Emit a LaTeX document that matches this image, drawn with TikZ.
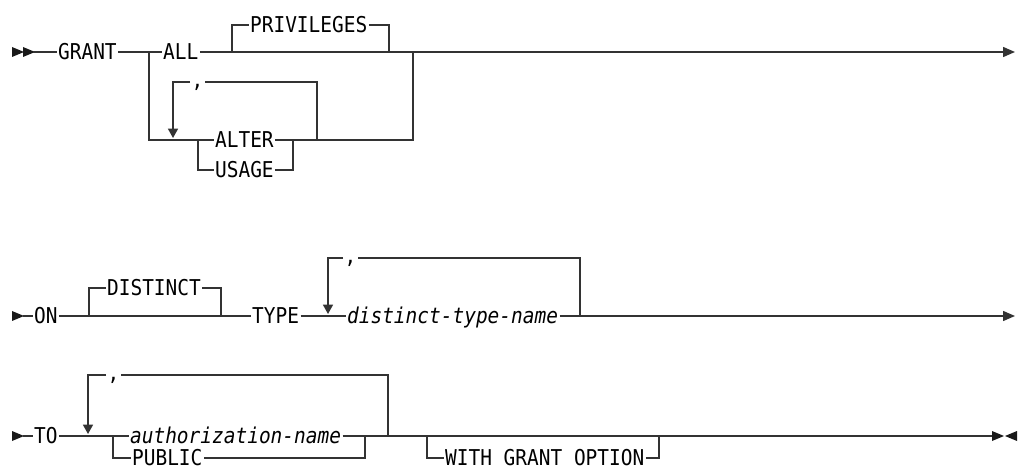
\documentclass[tikz,border=0pt]{standalone}
\usepackage{fontspec}
\usetikzlibrary{arrows.meta}
\newfontfamily\rrfont{DejaVu Sans Mono}
\newcommand\rrsize{\fontsize{14.6pt}{16pt}\selectfont}

\tikzset{
  rail/.style={line width=1.1pt, draw=black!80},
  kw/.style={font=\rrfont\rrsize, anchor=west, inner xsep=1pt, inner ysep=0pt,
             text height=10.6pt, text depth=0pt, yscale=1.12},
  var/.style={kw, font=\rrfont\itshape\rrsize},
  sepcomma/.style={kw, text height=7pt},
  tip/.style={-{Triangle[length=9pt,width=7.5pt]}},
  downtip/.style={-{Triangle[length=7pt,width=7.5pt]}},
  headtri/.pic={\fill[black!90] (0,-5) -- (12,0) -- (0,5) -- cycle;},
  tailtri/.pic={\fill[black!90] (0,-5) -- (-12,0) -- (0,5) -- cycle;},
}

\begin{document}
\begin{tikzpicture}[x=0.75pt, y=-0.75pt]
\useasboundingbox (0,0) rectangle (1018,470);

% -----------------------
% Ligne 1 : GRANT
% -----------------------
\pic at (12,52) {headtri};
\pic at (23,52) {headtri};
\coordinate (r1start) at (33,52);
\coordinate (r1end) at (1015,52);
\coordinate (allL) at (149,52);
\coordinate (allR) at (413,52);
\coordinate (privL) at (232,52);
\coordinate (privR) at (389,52);
\coordinate (altB) at (198,140);
\coordinate (altE) at (293,140);
\coordinate (loop1L) at (173,138);
\coordinate (loop1R) at (317,140);

\node[kw] (grant) at (56.5,52) {GRANT};
\node[kw] (all) at (161.5,52) {ALL};
\node[kw] (privileges) at (248.5,25) {PRIVILEGES};
\node[kw] (alter) at (213.5,140) {ALTER};
\node[kw] (usage) at (213.5,170) {USAGE};
\node[sepcomma] (comma1) at (190,82) {,};

\draw[rail] (r1start) -- (grant.west);
\draw[rail] (grant.east) -- (all.west);
\draw[rail,tip] (all.east) -- (r1end);
\draw[rail] (privL) |- (privileges.west);
\draw[rail] (privileges.east) -| (privR);
\draw[rail] (allL) |- (alter.west);
\draw[rail] (alter.east) -| (allR);
\draw[rail] (altB) |- (usage.west);
\draw[rail] (usage.east) -| (altE);
\draw[rail] (loop1R) |- (comma1.east);
\draw[rail,downtip] (comma1.west) -| (loop1L);

% -----------------------
% Ligne 2 : ON
% -----------------------
\pic at (12,316) {headtri};
\coordinate (r2start) at (23,316);
\coordinate (r2end) at (1015,316);
\coordinate (distL) at (89,316);
\coordinate (distR) at (221,316);
\coordinate (loop2L) at (328,314);
\coordinate (loop2R) at (580,316);

\node[kw] (on) at (32.5,316) {ON};
\node[kw] (distinct) at (105.5,288) {DISTINCT};
\node[kw] (type) at (250.5,316) {TYPE};
\node[var] (dtname) at (345.5,316) {distinct-type-name};
\node[sepcomma] (comma2) at (343,258) {,};

\draw[rail] (r2start) -- (on.west);
\draw[rail] (on.east) -- (type.west);
\draw[rail] (distL) |- (distinct.west);
\draw[rail] (distinct.east) -| (distR);
\draw[rail] (type.east) -- (dtname.west);
\draw[rail,tip] (dtname.east) -- (r2end);
\draw[rail] (loop2R) |- (comma2.east);
\draw[rail,downtip] (comma2.west) -| (loop2L);

% -----------------------
% Ligne 3 : TO
% -----------------------
\pic at (12,436) {headtri};
\coordinate (r3start) at (23,436);
\coordinate (r3end) at (992,436);
\coordinate (authL) at (113,436);
\coordinate (authR) at (365,436);
\coordinate (loop3L) at (88,434);
\coordinate (loop3R) at (388,436);
\coordinate (wgoL) at (427,436);
\coordinate (wgoR) at (659,436);

\node[kw] (to) at (32.5,436) {TO};
\node[var] (authname) at (128.5,436) {authorization-name};
\node[kw] (public) at (130.5,458) {PUBLIC};
\node[kw] (wgo) at (443.5,458) {WITH GRANT OPTION};
\node[sepcomma] (comma3) at (106,375) {,};

\draw[rail] (r3start) -- (to.west);
\draw[rail] (to.east) -- (authname.west);
\draw[rail] (authL) |- (public.west);
\draw[rail] (public.east) -| (authR);
\draw[rail] (authname.east) -- (r3end);
\draw[rail] (wgoL) |- (wgo.west);
\draw[rail] (wgo.east) -| (wgoR);
\draw[rail] (loop3R) |- (comma3.east);
\draw[rail,downtip] (comma3.west) -| (loop3L);
\pic at (r3end) {headtri};
\pic at (1017,436) {tailtri};

\end{tikzpicture}
\end{document}
